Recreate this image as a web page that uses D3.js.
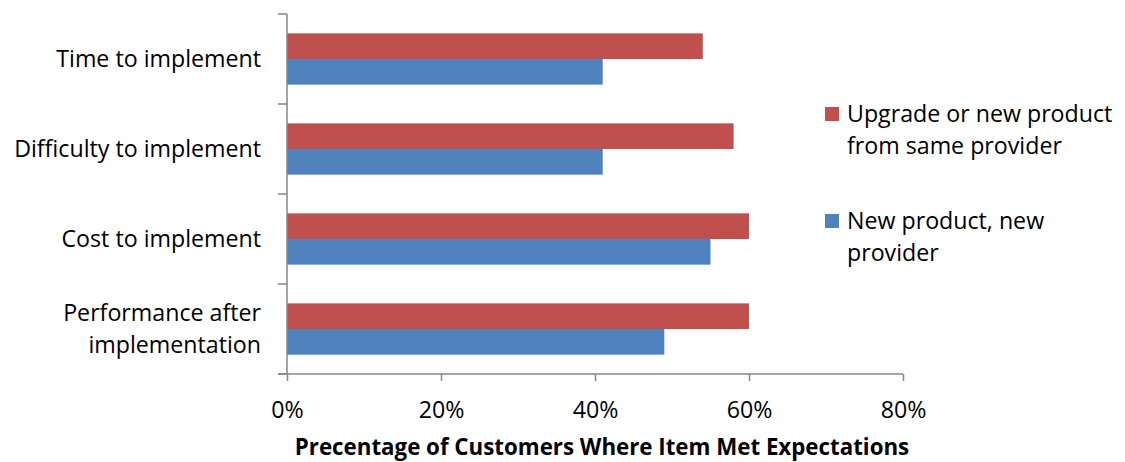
<!DOCTYPE html>
<html>
<head>
<meta charset="utf-8">
<script src="https://cdn.jsdelivr.net/npm/d3@7"></script>
<style>
  html, body { margin: 0; padding: 0; background: #fff; }
  svg { display: block; }
  text { font-family: "Open Sans", "Noto Sans", sans-serif; fill: #000; }
</style>
</head>
<body>
<svg id="chart" width="1125" height="462"></svg>
<script>
// Categories, top to bottom
const categories = [
  ["Time to implement"],
  ["Difficulty to implement"],
  ["Cost to implement"],
  ["Performance after", "implementation"]
];
const seriesNames = [
  ["Upgrade or new product", "from same provider"],
  ["New product, new", "provider"]
];
// Percent of customers where the item met expectations
const sameProvider = [54, 58, 60, 60];
const newProvider = [41, 41, 55, 49];
const xTicks = [0, 20, 40, 60, 80];
const colors = ["#C0504D", "#4F81BD"];

const svg = d3.select("#chart");
const plotLeft = 287, plotRight = 903, plotTop = 14, plotBottom = 374;
const fontSize = 23.2;

const x = d3.scaleLinear().domain([0, 80]).range([plotLeft, plotRight]);
const y = d3.scaleBand().domain(d3.range(categories.length)).range([plotTop, plotBottom]).paddingInner(0.43).paddingOuter(0.215);
const sub = d3.scaleBand().domain([0, 1]).range([0, y.bandwidth()]);

const series = [sameProvider, newProvider];

// bars
series.forEach((vals, s) => {
  svg.append("g").selectAll("rect").data(vals).join("rect")
    .attr("x", x(0))
    .attr("y", (d, i) => y(i) + sub(s))
    .attr("width", d => x(d) - x(0))
    .attr("height", sub.bandwidth())
    .attr("fill", colors[s]);
});

const axisColor = "#868686";

// category axis (left)
const yEdges = d3.range(categories.length + 1).map(i => plotTop + i * (plotBottom - plotTop) / categories.length);
const gy = svg.append("g");
gy.append("line").attr("x1", plotLeft).attr("x2", plotLeft).attr("y1", plotTop).attr("y2", plotBottom)
  .attr("stroke", axisColor).attr("stroke-width", 1.5);
gy.selectAll("line.tick").data(yEdges).join("line").attr("class", "tick")
  .attr("x1", plotLeft - 9).attr("x2", plotLeft).attr("y1", d => d).attr("y2", d => d)
  .attr("stroke", axisColor).attr("stroke-width", 1.5);

categories.forEach((lines, i) => {
  const cy = y(i) + y.bandwidth() / 2;
  const lh = 32;
  const t = svg.append("text").attr("text-anchor", "end").attr("font-size", fontSize);
  lines.forEach((ln, k) => {
    t.append("tspan").attr("x", 261)
      .attr("y", cy + (k - (lines.length - 1) / 2) * lh + 8)
      .text(ln);
  });
});

// value axis (bottom)
const xAxis = d3.axisBottom(x).tickValues(xTicks).tickFormat(d => d + "%").tickSize(7).tickSizeOuter(0);
const gx = svg.append("g").attr("transform", `translate(0,${plotBottom})`).call(xAxis);
gx.select(".domain").attr("stroke", axisColor).attr("stroke-width", 1.5).attr("d", `M${plotLeft - 9},0H${plotRight}`);
gx.selectAll(".tick line").attr("stroke", axisColor).attr("stroke-width", 1.5);
gx.selectAll(".tick text").attr("font-size", fontSize).attr("font-family", "\"Open Sans\", sans-serif")
  .attr("fill", "#000").attr("dy", 0).attr("y", 44);

svg.append("text").attr("x", (plotLeft + plotRight) / 2 + 7).attr("y", 455)
  .attr("text-anchor", "middle").attr("font-size", 22.3).attr("font-weight", "bold")
  .text("Precentage of Customers Where Item Met Expectations");

// legend
const legendY = [107, 214];
seriesNames.forEach((lines, s) => {
  svg.append("rect").attr("x", 825).attr("y", legendY[s]).attr("width", 14).attr("height", 14).attr("fill", colors[s]);
  const t = svg.append("text").attr("font-size", fontSize);
  lines.forEach((ln, k) => {
    t.append("tspan").attr("x", 847).attr("y", legendY[s] + 15 + k * 32).text(ln);
  });
});
</script>
</body>
</html>
